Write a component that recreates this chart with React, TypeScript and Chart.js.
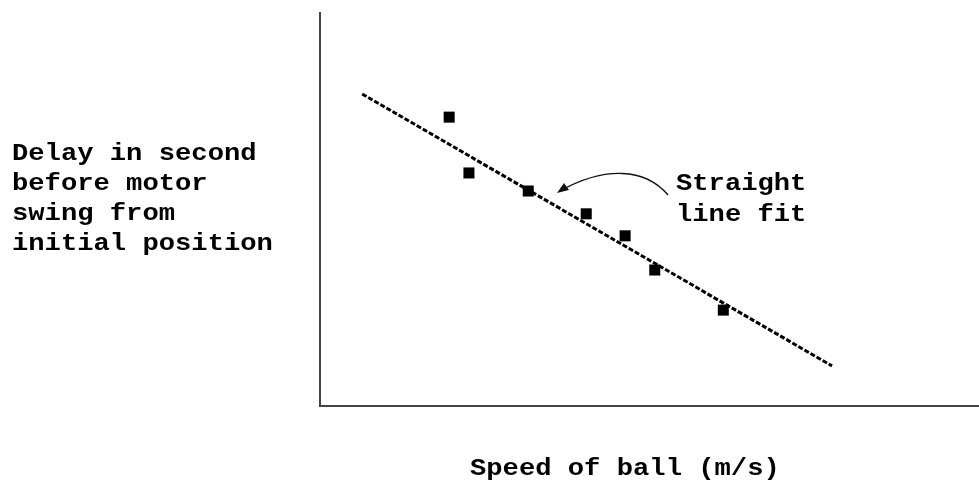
import React, { useEffect, useRef } from "react";
import { Chart, registerables } from "chart.js";

Chart.register(...registerables);

const speedValues = [1.96, 2.26, 3.16, 4.04, 4.63, 5.08, 6.12];
const delayValues = [7.35, 5.93, 5.47, 4.89, 4.33, 3.46, 2.44];
const fitSpeed = [0.64, 7.77];
const fitDelay = [7.94, 1.02];

const yLabelLines = ["Delay in second", "before motor", "swing from", "initial position"];
const xLabel = "Speed of ball (m/s)";
const noteLines = ["Straight", "line fit"];

const FONT_PX = 24;
const FONT = `bold ${FONT_PX}px 'Liberation Mono', 'DejaVu Sans Mono', monospace`;
const PITCH = 16.3;

function drawText(ctx: CanvasRenderingContext2D, t: string, x: number, y: number) {
  const sx = PITCH / (0.6 * FONT_PX);
  ctx.save();
  ctx.translate(x, y);
  ctx.scale(sx, 1);
  ctx.fillText(t, 0, 0);
  ctx.restore();
}

const textPlugin = {
  id: "labels",
  afterDraw(chart: any) {
    const ctx = chart.ctx as CanvasRenderingContext2D;
    ctx.save();
    ctx.fillStyle = "#000";
    ctx.font = FONT;
    ctx.textAlign = "left";
    ctx.textBaseline = "alphabetic";
    yLabelLines.forEach((t, i) => drawText(ctx, t, 12, 160 + i * 30));
    drawText(ctx, xLabel, 470, 475);
    noteLines.forEach((t, i) => drawText(ctx, t, 676, 190 + i * 31));

    // curved arrow
    ctx.strokeStyle = "#111";
    ctx.lineWidth = 1.3;
    ctx.beginPath();
    ctx.moveTo(668, 195);
    ctx.bezierCurveTo(645, 168, 605, 166, 560, 191);
    ctx.stroke();
    ctx.beginPath();
    ctx.moveTo(557, 193);
    ctx.lineTo(564, 183);
    ctx.lineTo(569, 190);
    ctx.closePath();
    ctx.fillStyle = "#111";
    ctx.fill();
    ctx.restore();
  },
};

export default function App() {
  const ref = useRef<HTMLCanvasElement>(null);
  useEffect(() => {
    if (!ref.current) return;
    const chart = new Chart(ref.current, {
      type: "scatter",
      data: {
        datasets: [
          {
            label: "fit",
            data: fitSpeed.map((x, i) => ({ x, y: fitDelay[i] })),
            showLine: true,
            borderColor: "#000",
            borderWidth: 3,
            borderDash: [5, 2],
            pointRadius: 0,
            order: 2,
          },
          {
            label: "measured",
            data: speedValues.map((x, i) => ({ x, y: delayValues[i] })),
            pointStyle: "rect",
            pointRadius: 7.8,
            pointBorderWidth: 0,
            backgroundColor: "#000",
            borderColor: "#000",
            order: 1,
          },
        ],
      },
      options: {
        animation: false,
        responsive: false,
        maintainAspectRatio: false,
        layout: { autoPadding: false, padding: { left: 320, top: 13, right: 0, bottom: 74 } },
        plugins: { legend: { display: false }, tooltip: { enabled: false } },
        scales: {
          x: {
            type: "linear",
            min: 0,
            max: 10,
            grid: { display: false, drawTicks: false },
            ticks: { display: false },
            border: { display: true, color: "#444", width: 2 },
          },
          y: {
            type: "linear",
            min: 0,
            max: 10,
            grid: { display: false, drawTicks: false },
            ticks: { display: false },
            border: { display: true, color: "#444", width: 2 },
          },
        },
      },
      plugins: [textPlugin],
    });
    return () => chart.destroy();
  }, []);
  return (
    <div style={{ position: "absolute", left: 0, top: 0, width: 979, height: 480, background: "#fff" }}>
      <canvas ref={ref} width={979} height={480} />
    </div>
  );
}
